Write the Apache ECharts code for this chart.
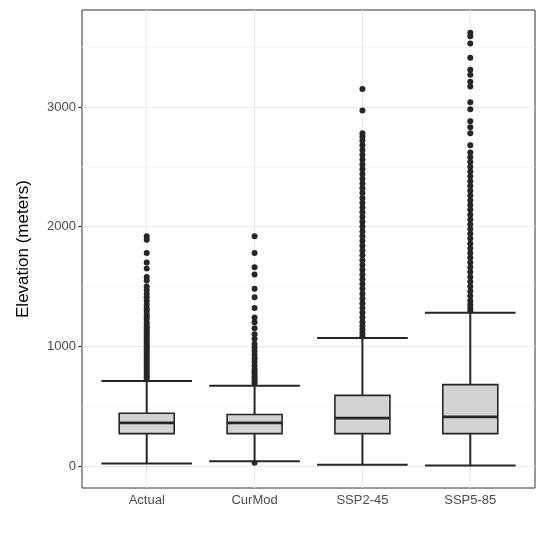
<!DOCTYPE html><html><head><meta charset="utf-8"><script src="https://cdn.jsdelivr.net/npm/echarts@6/dist/echarts.min.js"></script></head><body style="margin:0;background:#fff"><div id="c" style="width:548px;height:548px"></div><script>
const categories=['Actual','CurMod','SSP2-45','SSP5-85'];
const lowWhisker=[20,40,10,5];
const q1=[270,270,270,270];
const median=[360,360,400,410];
const q3=[440,430,590,680];
const highWhisker=[710,670,1070,1280];
const outActual=[1920,1890,1780,1700,1650,1580,1550,1500,1470,1440,1410,1380,1350,1320,1300,1270,1250,1230,1200,1180,1160,1140,1120,1100,1080,1060,1040,1020,1000,985,970,950,930,910,890,870,850,830,810,790,770,750,730];
const outCurMod=[1920,1780,1660,1600,1480,1410,1320,1240,1200,1150,1100,1060,1020,990,960,930,900,870,840,810,790,770,750,730,710,690,28];
const outSSP2=[3150,2970,2780,2750,2720,2680,2640,2600,2560,2520,2480,2440,2400,2360,2320,2280,2240,2200,2160,2120,2080,2040,2000,1960,1920,1880,1840,1800,1760,1720,1680,1640,1600,1560,1520,1480,1440,1400,1360,1320,1280,1240,1200,1170,1140,1110,1085];
const outSSP5=[3620,3590,3530,3410,3310,3270,3210,3170,3040,2980,2880,2830,2780,2680,2620,2580,2540,2500,2460,2420,2380,2340,2300,2260,2220,2180,2140,2100,2060,2020,1980,1940,1900,1860,1820,1780,1740,1700,1660,1620,1580,1540,1500,1460,1420,1380,1350,1320,1295];
const yTicks=[0,1000,2000,3000];
const yMinor=[500,1500,2500,3500];
const xTicks=[1,2,3,4];
const outliers=[outActual,outCurMod,outSSP2,outSSP5];
const boxData=categories.map((c,i)=>[i+1,lowWhisker[i],q1[i],median[i],q3[i],highWhisker[i]]);
const pts=[];outliers.forEach((a,i)=>a.forEach(v=>pts.push([i+1,v])));
const ch=echarts.init(document.getElementById('c'));
const ml=[...yMinor.map(v=>({yAxis:v,lineStyle:{color:'#f4f4f4',width:0.8,type:'solid'}})),...yTicks.map(v=>({yAxis:v,lineStyle:{color:'#ebebeb',width:1.2,type:'solid'}}))];
const font='Liberation Sans, Arial';
ch.setOption({animation:false,
grid:{left:82,right:13,top:10,bottom:60,show:true,borderColor:'#333',borderWidth:1},
xAxis:{type:'value',min:0.4,max:4.6,axisLine:{show:false},axisTick:{show:true,customValues:xTicks,lineStyle:{color:'#333'},length:4},axisLabel:{customValues:xTicks,formatter:v=>categories[Math.round(v)-1]||'',color:'#4d4d4d',fontSize:13,fontFamily:font,margin:6},splitLine:{show:false}},
yAxis:{type:'value',min:-184,max:3810,name:'Elevation (meters)',nameLocation:'middle',nameGap:50,nameTextStyle:{fontSize:17,color:'#000',fontFamily:font},axisLine:{show:false},axisTick:{show:true,customValues:yTicks,length:4,lineStyle:{color:'#333'}},axisLabel:{customValues:yTicks,formatter:v=>String(v),color:'#4d4d4d',fontSize:13,fontFamily:font,margin:6},splitLine:{show:false}},
series:[
{type:'custom',data:boxData,z:1,renderItem:(p,api)=>{
 const i=api.value(0);const x=api.coord([i,0])[0];const u=api.size([1,0])[0];
 const y=k=>api.coord([i,api.value(k)])[1];
 const top=p.coordSys.y,bot=p.coordSys.y+p.coordSys.height;
 const hb=u*0.255,hc=u*0.42;const ls={stroke:'#262626',lineWidth:2};
 return {type:'group',children:[
  {type:'line',shape:{x1:x,y1:top,x2:x,y2:bot},style:{stroke:'#ebebeb',lineWidth:1.2}},
  {type:'line',shape:{x1:x,y1:y(1),x2:x,y2:y(5)},style:ls},
  {type:'line',shape:{x1:x-hc,y1:y(1),x2:x+hc,y2:y(1)},style:ls},
  {type:'line',shape:{x1:x-hc,y1:y(5),x2:x+hc,y2:y(5)},style:ls},
  {type:'rect',shape:{x:x-hb,y:y(4),width:2*hb,height:y(2)-y(4)},style:{fill:'#d3d3d3',stroke:'#262626',lineWidth:1.6}},
  {type:'line',shape:{x1:x-hb,y1:y(3),x2:x+hb,y2:y(3)},style:{stroke:'#262626',lineWidth:2.8}}
 ]};}},
{type:'scatter',data:pts,z:2,symbolSize:6,itemStyle:{color:'#262626',opacity:1},silent:true,
 markLine:{silent:true,symbol:'none',label:{show:false},data:ml,z:0}}
]});
</script></body></html>
